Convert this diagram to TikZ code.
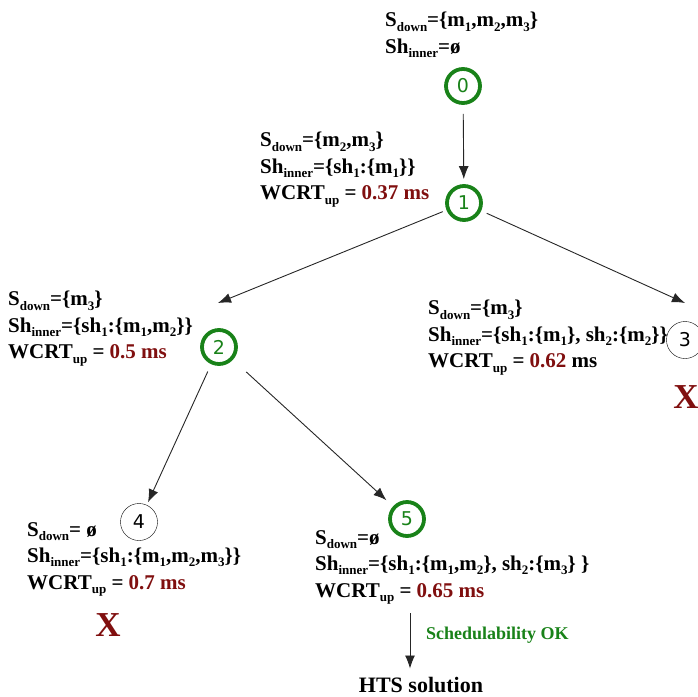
\documentclass[tikz,border=0pt]{standalone}
\usepackage{fontspec}
\setmainfont{Liberation Serif}
\newfontfamily\digitfont{DejaVu Sans}
\usetikzlibrary{arrows.meta}

\definecolor{okgreen}{RGB}{25,130,25}
\definecolor{costred}{RGB}{128,15,15}

\newcommand{\lo}[1]{\raisebox{-0.45ex}{\fontsize{13}{13}\selectfont #1}}
\newcommand{\cost}[1]{\textcolor{costred}{#1}}

\begin{document}
\begin{tikzpicture}[x=1pt, y=-1pt, >={Latex[length=13pt,width=10pt]},
    state/.style={circle, draw, thin, minimum size=37pt, inner sep=0pt, font=\digitfont\fontsize{19}{19}\selectfont},
    kept/.style={state, draw=okgreen, line width=3.8pt, minimum size=34pt, text=okgreen},
    info/.style={anchor=north west, align=left, inner sep=0pt, font=\bfseries\fontsize{21}{26.5}\selectfont},
    cut/.style={text=costred, inner sep=0pt, font=\bfseries\fontsize{35}{35}\selectfont},
    branch/.style={->, line width=0.9pt, black!85}]
  \useasboundingbox (0,0) rectangle (698,696);

  % --- search tree nodes ---
  \node[kept]  (n0) at (463,86)  {0};
  \node[kept]  (n1) at (464,203) {1};
  \node[kept]  (n2) at (219,347) {2};
  \node[state] (n3) at (685,340) {3};
  \node[state] (n4) at (139,522) {4};
  \node[kept]  (n5) at (407,519) {5};

  % --- labels ---
  \node[info] (l0) at (385,12)
    {S\lo{down}=\{m\lo{1},m\lo{2},m\lo{3}\}\\Sh\lo{inner}=ø};
  \node[info] (l1) at (260,132)
    {S\lo{down}=\{m\lo{2},m\lo{3}\}\\Sh\lo{inner}=\{sh\lo{1}:\{m\lo{1}\}\}\\
     WCRT\lo{up} = \cost{0.37 ms}};
  \node[info] (l2) at (8,291)
    {S\lo{down}=\{m\lo{3}\}\\Sh\lo{inner}=\{sh\lo{1}:\{m\lo{1},m\lo{2}\}\}\\
     WCRT\lo{up} = \cost{0.5 ms}};
  \node[info] (l3) at (428,300)
    {S\lo{down}=\{m\lo{3}\}\\Sh\lo{inner}=\{sh\lo{1}:\{m\lo{1}\}, sh\lo{2}:\{m\lo{2}\}\}\\
     WCRT\lo{up} = \cost{0.62} ms};
  \node[info] (l4) at (27,522)
    {S\lo{down}= ø\\Sh\lo{inner}=\{sh\lo{1}:\{m\lo{1},m\lo{2},m\lo{3}\}\}\\
     WCRT\lo{up} = \cost{0.7 ms}};
  \node[info] (l5) at (315,530)
    {S\lo{down}=ø\\Sh\lo{inner}=\{sh\lo{1}:\{m\lo{1},m\lo{2}\}, sh\lo{2}:\{m\lo{3}\} \}\\
     WCRT\lo{up} = \cost{0.65 ms}};

  % pruned branches
  \node[cut] (x3) at (686,397) {X};
  \node[cut] (x4) at (108,625) {X};

  % --- branches ---
  \coordinate (in2) at (218,303);
  \coordinate (in3) at (685,303);
  \draw[branch, shorten <=9pt, shorten >=5pt] (n0) -- (n1);
  \draw[branch, shorten <=4pt] (n1) -- (in2);
  \draw[branch, shorten <=6pt] (n1) -- (in3);
  \draw[branch, shorten <=8pt, shorten >=3pt] (n2) -- (n4);
  \draw[branch, shorten <=18pt, shorten >=9pt] (n2) -- (n5);

  % --- result ---
  \node[anchor=base, inner sep=0pt, font=\bfseries\fontsize{22}{22}\selectfont] (hts) at (421,692) {HTS solution};
  \coordinate (ok) at (410,613);
  \draw[branch, shorten >=8pt] (ok) -- (ok |- hts.north);
  \node[anchor=west, inner sep=0pt, text=okgreen, font=\bfseries\fontsize{18}{18}\selectfont] (sched) at (426,635) {Schedulability OK};
\end{tikzpicture}
\end{document}
